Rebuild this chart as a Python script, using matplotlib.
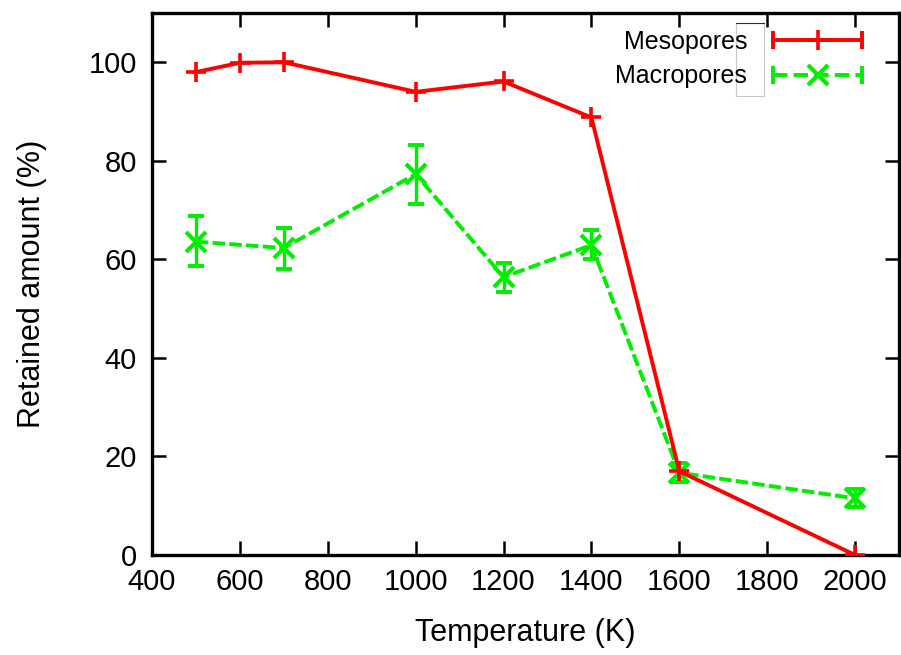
import matplotlib.pyplot as plt
from matplotlib.legend_handler import HandlerBase
from matplotlib.lines import Line2D
from matplotlib.patches import Rectangle

plt.rcParams['font.family'] = ['Liberation Sans', 'DejaVu Sans']

# retained fraction after annealing
meso_temp = [500, 600, 700, 1000, 1200, 1400, 1600, 2000]
meso_val = [98.0, 99.9, 100.0, 94.0, 96.1, 88.8, 17.0, 0.0]

macro_temp = [500, 700, 1000, 1200, 1400, 1600, 2000]
macro_val = [63.6, 62.3, 77.3, 56.4, 62.9, 16.7, 11.5]
macro_lo = [58.7, 58.1, 71.3, 53.4, 60.0, 14.8, 9.7]
macro_hi = [68.7, 66.3, 83.3, 59.3, 66.0, 18.7, 13.3]

x_ticks = [400, 600, 800, 1000, 1200, 1400, 1600, 1800, 2000]
y_ticks = [0, 20, 40, 60, 80, 100]

RED = '#ff0000'
GREEN = '#00ee00'


class CappedHandler(HandlerBase):
    """Legend sample: line with end caps and the marker in the middle."""

    def create_artists(self, legend, orig_handle, xdescent, ydescent,
                       width, height, fontsize, trans):
        y = height / 2 - ydescent
        x0, x1 = -xdescent, width - xdescent
        line = Line2D([x0, x1], [y, y], color=orig_handle.get_color(),
                      lw=orig_handle.get_linewidth(),
                      ls=orig_handle.get_linestyle())
        mark = Line2D([(x0 + x1) / 2], [y], ls='none',
                      marker=orig_handle.get_marker(),
                      ms=orig_handle.get_markersize(),
                      mew=orig_handle.get_markeredgewidth(),
                      color=orig_handle.get_color())
        caps = Line2D([x0, x1], [y, y], ls='none', marker='|', ms=13,
                      mew=2.8, color=orig_handle.get_color())
        for a in (line, mark, caps):
            a.set_transform(trans)
        return [line, mark, caps]


fig = plt.figure(figsize=(9.01, 6.55), dpi=100)
ax = fig.add_axes([152 / 901, 1 - 555 / 655, 747 / 901, 542 / 655])

h_meso, = ax.plot(meso_temp, meso_val, color=RED, lw=2.8, marker='+',
                  ms=14, mew=2.6, zorder=3)

err = [[v - lo for v, lo in zip(macro_val, macro_lo)],
       [hi - v for v, hi in zip(macro_val, macro_hi)]]
ax.errorbar(macro_temp, macro_val, yerr=err, fmt='none', ecolor=GREEN,
            elinewidth=2.4, capsize=6, capthick=2.8, zorder=2)
h_macro, = ax.plot(macro_temp, macro_val, color=GREEN, lw=2.8,
                   ls=(0, (3.2, 1.1)), marker='x', ms=14, mew=3.0, zorder=2)

ax.set_xlim(400, 2100)
ax.set_ylim(0, 110)
ax.set_xticks(x_ticks)
ax.set_yticks(y_ticks)
ax.tick_params(direction='in', length=10, width=1.8, labelsize=21,
               top=True, right=True)
ax.tick_params(axis='x', pad=9)
ax.tick_params(axis='y', pad=11)
for s in ax.spines.values():
    s.set_linewidth(2.4)

ax.set_xlabel('Temperature (K)', fontsize=22)
ax.set_ylabel('Retained amount (%)', fontsize=22)
ax.xaxis.set_label_coords(0.5, -0.117)
ax.yaxis.set_label_coords(-0.141, 0.5)

# thin key box outline behind the labels
ax.add_patch(Rectangle((736 / 901, 1 - 96 / 655), 28 / 901, 73 / 655,
                       transform=fig.transFigure, fill=False,
                       ec='#c8c8c8', lw=0.8, zorder=1))
ax.add_line(Line2D([736 / 901, 764 / 901], [1 - 23 / 655, 1 - 23 / 655],
                   transform=fig.transFigure, color='#333333', lw=0.8))

ax.legend([h_meso, h_macro], ['Mesopores', 'Macropores'],
          handler_map={Line2D: CappedHandler()}, frameon=False,
          markerfirst=False, loc='upper right',
          bbox_to_anchor=(862 / 901, 1 - 30 / 655),
          bbox_transform=fig.transFigure, fontsize=18,
          handlelength=3.55, handletextpad=1.04, labelspacing=0.42,
          borderpad=0, borderaxespad=0)

fig.savefig('out.png', dpi=100)
